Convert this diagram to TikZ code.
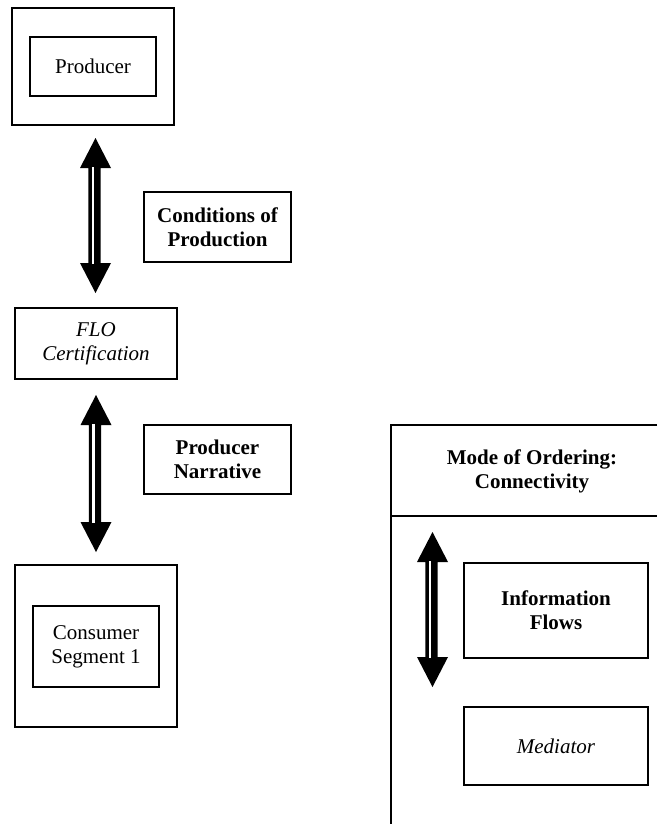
\documentclass[tikz,border=0pt]{standalone}
\usepackage{fontspec}
\setmainfont{Liberation Serif}
\begin{document}
\begin{tikzpicture}[x=1pt,y=-1pt,
  box/.style={draw,line width=1.4pt,inner sep=0pt,align=center,
    font=\fontsize{21}{24}\selectfont},
  pics/vdarrow/.style={code={
    \fill (0,0) -- (15.5,30) -- (5.2,30) -- (5.2,#1-30) -- (15.5,#1-30) -- (0,#1)
      -- (-15.5,#1-30) -- (-7.2,#1-30) -- (-7.2,30) -- (-15.5,30) -- cycle;
    \fill[white] (-3.6,29) rectangle (-1.2,#1-29);
  }}]
\useasboundingbox (0,0) rectangle (657,824);
% left column
\node[box,minimum width=162pt,minimum height=117pt] (prodout) at (93,66.5) {};
\node[box,minimum width=126pt,minimum height=59pt] (prod) at (93,66.5) {Producer};
\node[box,minimum width=147pt,minimum height=70pt] (cond) at (217.5,227) {\bfseries Conditions of\\\bfseries Production};
\node[box,minimum width=162pt,minimum height=71pt] (flo) at (96,343.5) {\itshape FLO\\\itshape Certification};
\node[box,minimum width=147pt,minimum height=69pt] (narr) at (217.5,459.5) {\bfseries Producer\\\bfseries Narrative};
\node[box,minimum width=162pt,minimum height=162pt] (consout) at (96,646) {};
\node[box,minimum width=126pt,minimum height=81pt] (cons) at (96,646.5) {Consumer\\Segment 1};
% arrows
\coordinate (a1) at (95.5,138);
\coordinate (a2) at (96,395);
\coordinate (a3) at (432.5,532);
\pic at (a1) {vdarrow=155};
\pic at (a2) {vdarrow=157};
\pic at (a3) {vdarrow=155};
% right panel
\coordinate (pt) at (391,425);
\coordinate (ptr) at (657,425);
\coordinate (pb) at (391,824);
\coordinate (pdl) at (391,516);
\coordinate (pdr) at (657,516);
\draw[line width=1.4pt] (ptr) -- (pt) -- (pb);
\draw[line width=1.4pt] (pdl) -- (pdr);
\node[align=center,inner sep=0pt,font=\fontsize{21}{24}\selectfont\bfseries] (mode) at (532,471) {Mode of Ordering:\\Connectivity};
\node[box,minimum width=184pt,minimum height=95pt] (info) at (556,610.5) {\bfseries Information\\\bfseries Flows};
\node[box,minimum width=184pt,minimum height=78pt] (med) at (556,746) {\itshape Mediator};
\end{tikzpicture}
\end{document}
